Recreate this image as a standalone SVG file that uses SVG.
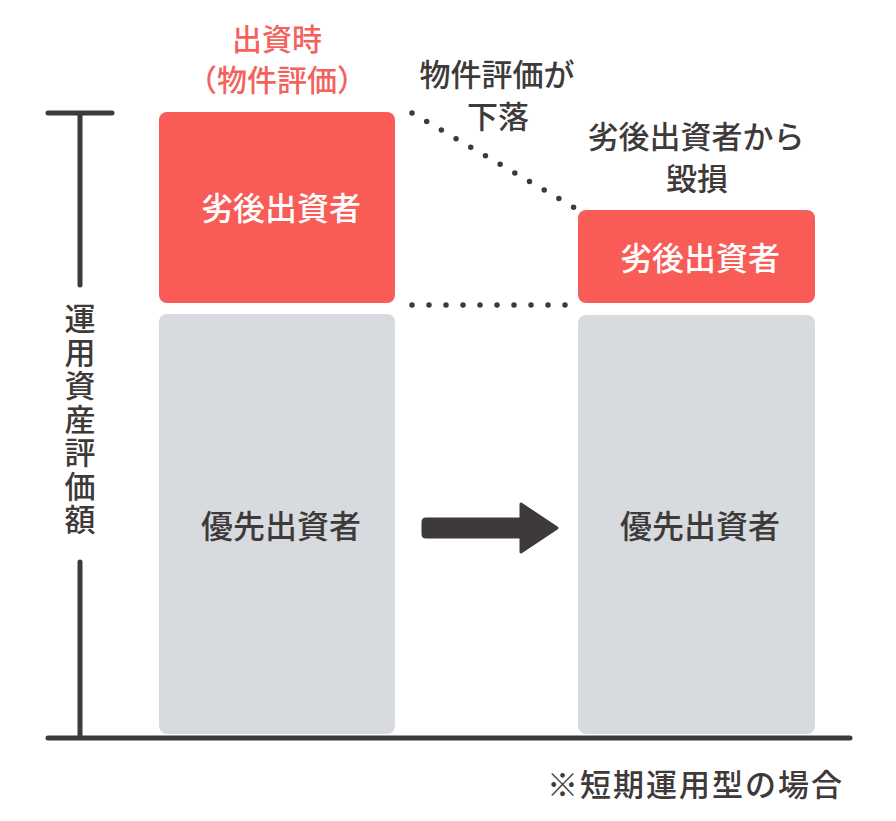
<svg xmlns="http://www.w3.org/2000/svg" width="896" height="821" viewBox="0 0 896 821">
<style>
text{font-family:"Noto Sans CJK JP","Noto Sans",sans-serif;font-weight:500;}
.dk{fill:#3e3a39;font-size:31px;}
.rd{fill:#f4625d;font-size:30px;}
.wh{fill:#ffffff;font-size:32px;}
.red{fill:#f95c56;}
.gray{fill:#d7dadf;}
.axis{stroke:#3e3a39;stroke-width:5;stroke-linecap:round;fill:none;}
.dot{stroke:#3e3a39;stroke-width:5.5;stroke-linecap:round;stroke-dasharray:0 17;fill:none;}
</style>
<rect width="896" height="821" fill="#ffffff"/>

<g id="axis">
<path class="axis" d="M48 113H112M80 113V285M80 562V738M48 738H850"/>
<text class="dk" x="80" y="303" style="writing-mode:vertical-rl;letter-spacing:2.5px">運用資産評価額</text>
</g>

<g id="label-before">
<text class="rd" text-anchor="middle" x="277" y="50">出資時</text>
<text class="rd" text-anchor="middle" x="277" y="91">（物件評価）</text>
</g>

<g id="left-junior">
<rect class="red" x="159" y="112" width="236" height="191" rx="8"/>
<text class="wh" text-anchor="middle" x="281" y="220">劣後出資者</text>
</g>

<g id="left-senior">
<rect class="gray" x="159" y="314" width="236" height="420" rx="8"/>
<text class="dk" text-anchor="middle" x="281" y="538" style="font-size:32px">優先出資者</text>
</g>

<g id="label-drop">
<text class="dk" text-anchor="middle" x="497" y="86">物件評価が</text>
<text class="dk" text-anchor="middle" x="498" y="128">下落</text>
</g>

<g id="label-loss">
<text class="dk" text-anchor="middle" x="696" y="148">劣後出資者から</text>
<text class="dk" text-anchor="middle" x="697" y="190">毀損</text>
</g>

<g id="right-junior">
<rect class="red" x="578" y="210" width="237" height="93" rx="8"/>
<text class="wh" text-anchor="middle" x="700" y="270">劣後出資者</text>
</g>

<g id="right-senior">
<rect class="gray" x="578" y="315" width="237" height="419" rx="8"/>
<text class="dk" text-anchor="middle" x="700" y="538" style="font-size:32px">優先出資者</text>
</g>

<g id="connectors">
<path class="dot" d="M412 113L575 208"/>
<path class="dot" d="M412 305H566"/>
<path d="M426 519H521V504L557 528L521 552V537H426Q423 537 423 534V522Q423 519 426 519Z" fill="#3e3a39" stroke="#3e3a39" stroke-width="3" stroke-linejoin="round"/>
</g>

<g id="note">
<text class="dk" x="547" y="796" textLength="295" lengthAdjust="spacing">※短期運用型の場合</text>
</g>
</svg>
